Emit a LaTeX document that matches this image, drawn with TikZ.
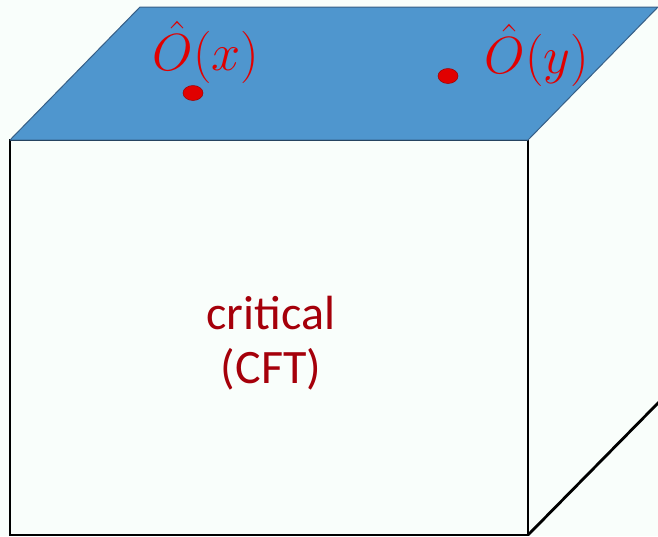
\documentclass[tikz,border=0pt]{standalone}
\usepackage{fontspec}
\newfontfamily\calib{Carlito}
\definecolor{topblue}{RGB}{79,150,206}
\definecolor{topedge}{RGB}{55,95,135}
\definecolor{opred}{RGB}{225,0,0}
\definecolor{labred}{RGB}{165,0,10}
\definecolor{facewhite}{RGB}{249,254,251}
\usetikzlibrary{shapes.geometric}
\tikzset{
  edge/.style={draw=black, line width=2.8pt},
  dotpt/.style={ellipse, fill=opred, draw=opred!70!black, line width=0.5pt, minimum width=20pt, minimum height=15pt, inner sep=0pt},
  oplabel/.style={text=opred, font=\Huge, scale=2.1, inner sep=0pt},
}
\begin{document}
\begin{tikzpicture}[x=1pt,y=-1pt]
\useasboundingbox (0,0) rectangle (658,536);
\fill[facewhite] (0,0) rectangle (658,536);
% corners
\coordinate (fl) at (10,140);
\coordinate (fr) at (528,140);
\coordinate (bl) at (10,535);
\coordinate (br) at (528,535);
\coordinate (tl) at (140,7);
\coordinate (tr) at (658,7);
\coordinate (rb) at (660,401);
% front face
\fill[facewhite] (fl) rectangle (br);
\draw[edge] (fr) -- (fl) -- (bl) -- (br) -- (fr);
\draw[edge] (br) -- (rb);
% top face
\filldraw[fill=topblue, draw=topedge, line width=1pt, line join=round] (fl) -- (tl) -- (tr) -- (fr) -- cycle;
% dots and labels
\node[dotpt] (dx) at (193,93) {};
\node[dotpt] (dy) at (448,76) {};
\node[oplabel] (ox) at (206,52) {$\hat{O}(x)$};
\node[oplabel] (oy) at (537,55) {$\hat{O}(y)$};
% center label
\node[text=labred, font=\calib\fontsize{48}{54}\selectfont, align=center] (crit) at (271,343) {critical\\(CFT)};
\end{tikzpicture}
\end{document}
